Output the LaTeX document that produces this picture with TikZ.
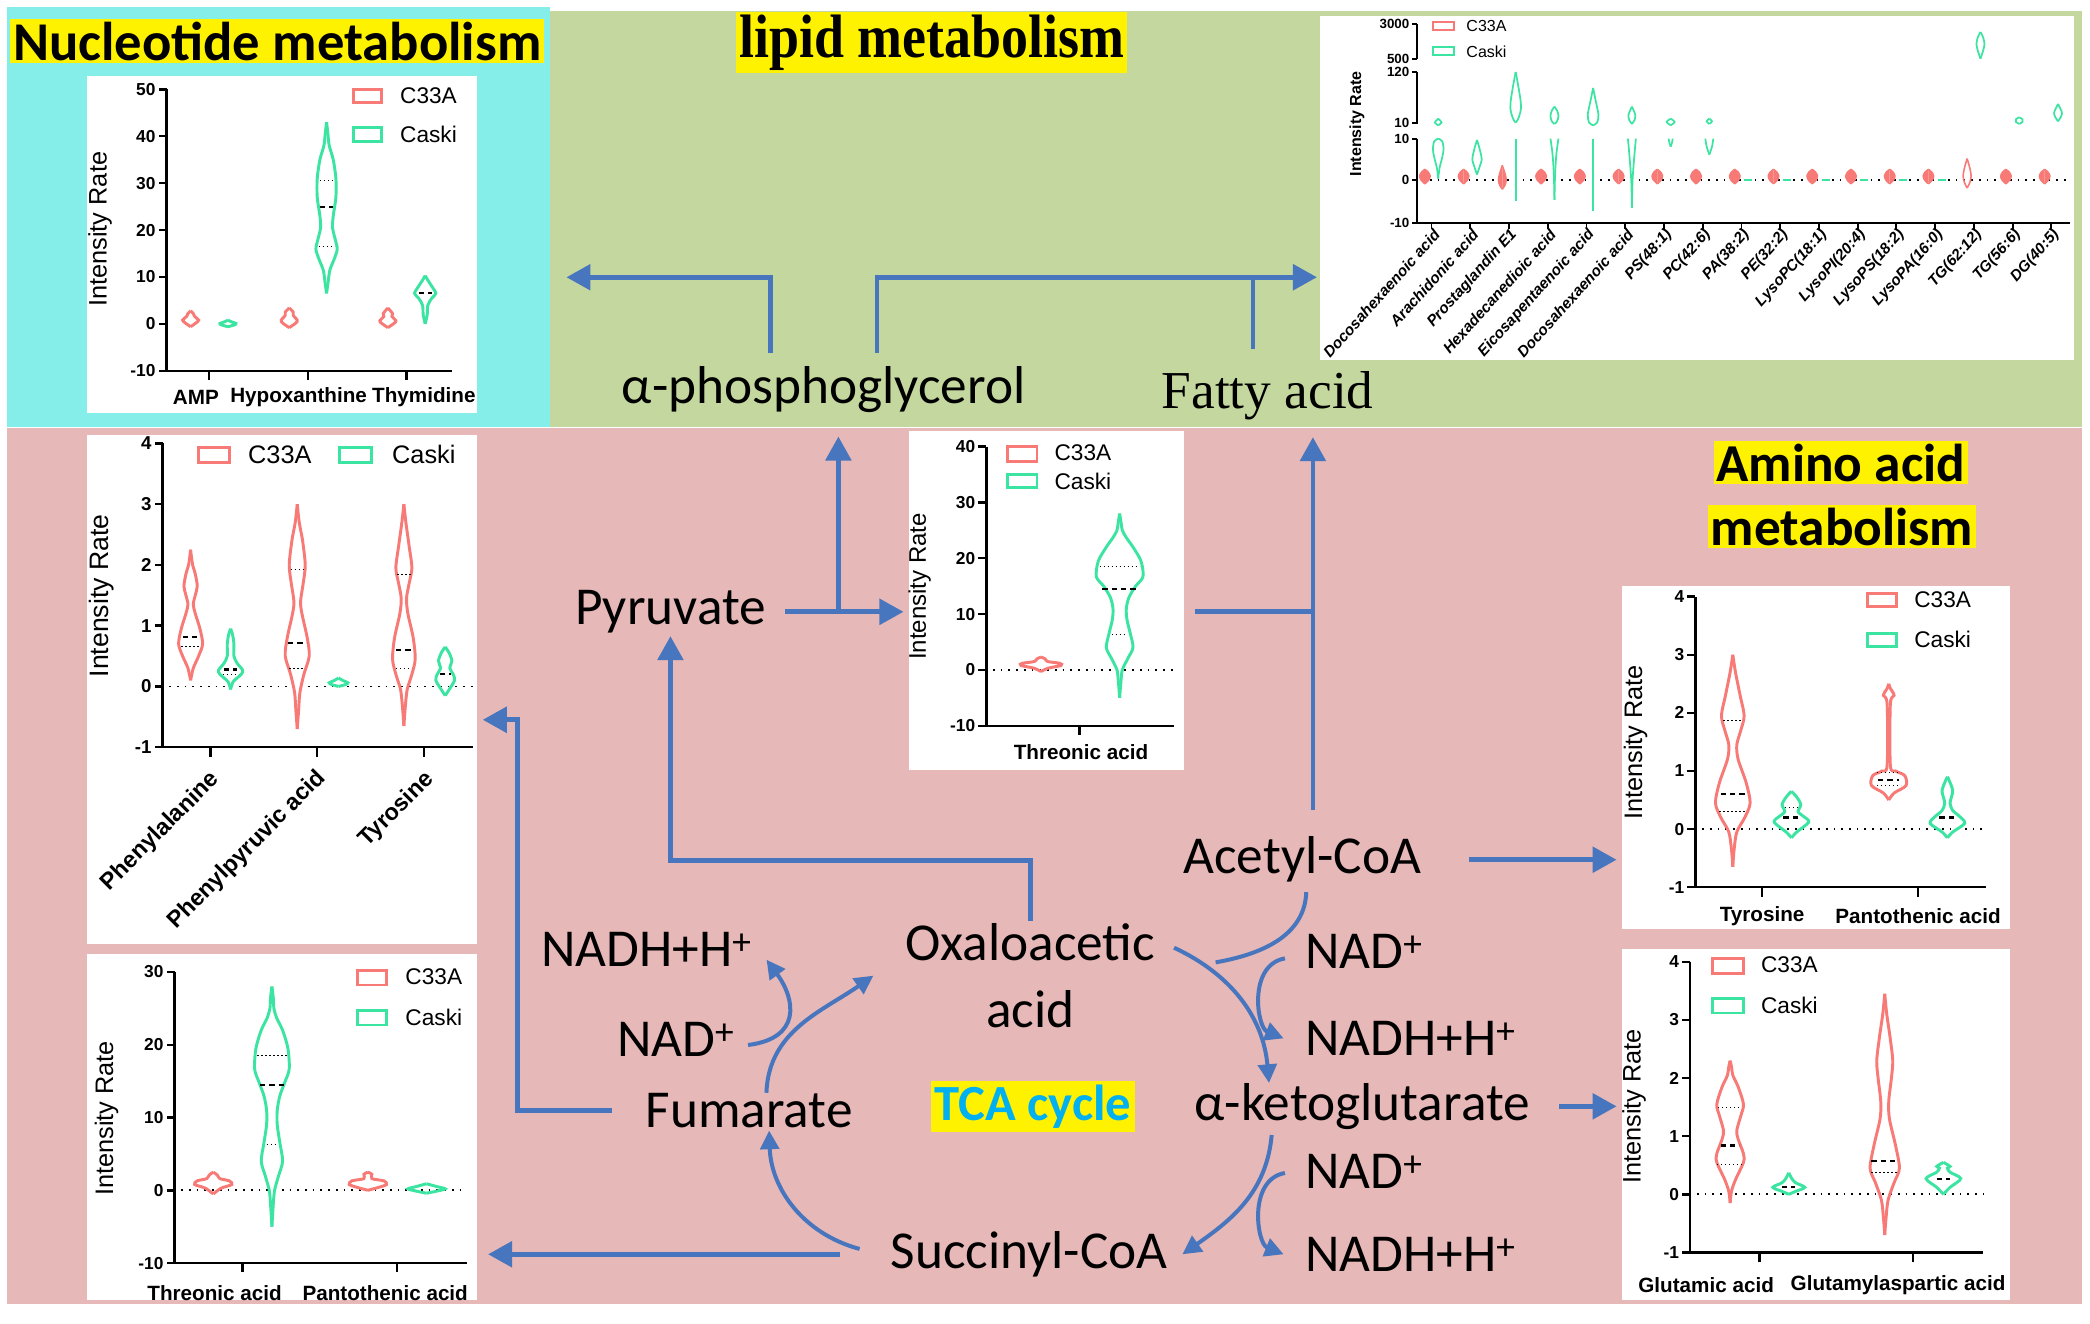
\documentclass[tikz,border=0pt]{standalone}
\usepackage{fontspec}
\usepackage{graphicx}
\setmainfont{Carlito}
\newfontfamily\timesfont{Liberation Serif}
\newfontfamily\arialfont{Liberation Sans}
\usetikzlibrary{arrows.meta}

\definecolor{cyanbg}{RGB}{134,238,232}
\definecolor{greenbg}{RGB}{196,215,158}
\definecolor{pinkbg}{RGB}{230,184,183}
\definecolor{flowblue}{RGB}{72,118,190}
\definecolor{vred}{RGB}{247,122,118}
\definecolor{vgrn}{RGB}{60,228,162}
\definecolor{tcablue}{RGB}{0,176,240}

% violin: centre x, style, right half profile (half width, value)
\newcommand{\violin}[3]{%
  \begin{scope}[shift={(#1,0)}]
    \draw[#2] plot[smooth] coordinates {#3};
    \draw[#2,xscale=-1] plot[smooth] coordinates {#3};
  \end{scope}}
\newcommand{\medmark}[3]{\draw[med_line] (#1-#2,#3) -- (#1+#2,#3);}
\newcommand{\qrtmark}[3]{\draw[qrt_line] (#1-#2,#3) -- (#1+#2,#3);}

\begin{document}
\begin{tikzpicture}[x=1pt, y=-1pt,
  met_node/.style={font=\fontsize{40}{50}\selectfont, inner sep=2pt},
  title_box/.style={fill=yellow, inner sep=2pt, font=\bfseries\fontsize{41}{41}\selectfont},
  panel/.style={fill=white, inner sep=0pt},
  flow_arrow/.style={draw=flowblue, line width=3.5pt, -{Triangle[length=18pt,width=19pt]}},
  flow_line/.style={draw=flowblue, line width=3.5pt},
  tca_arrow/.style={draw=flowblue, line width=3pt, -{Triangle[length=14pt,width=14pt]}},
  tca_line/.style={draw=flowblue, line width=3pt},
  chart_axis/.style={line width=1.8pt},
  lip_axis/.style={line width=1.4pt},
  chart_tick/.style={font=\arialfont\bfseries\fontsize{13}{13}\selectfont, inner sep=1.5pt},
  lip_tick/.style={font=\arialfont\bfseries\fontsize{10}{10}\selectfont, inner sep=1pt},
  chart_cat/.style={font=\arialfont\bfseries\fontsize{15.5}{15.5}\selectfont, inner sep=0pt},
  chart_rot/.style={font=\arialfont\bfseries\fontsize{17.5}{17.5}\selectfont, inner sep=0pt, rotate=45, anchor=east},
  lip_cat/.style={font=\arialfont\bfseries\itshape\fontsize{11.5}{11.5}\selectfont, inner sep=0pt, rotate=48, anchor=east},
  chart_ylab/.style={font=\arialfont\fontsize{19}{19}\selectfont, rotate=90},
  chart_leg/.style={font=\arialfont\fontsize{17}{17}\selectfont, anchor=west, inner sep=0pt},
  red_violin/.style={draw=vred, line width=2.2pt},
  grn_violin/.style={draw=vgrn, line width=2.2pt},
  red_small/.style={draw=vred, fill=vred, line width=1pt},
  grn_small/.style={draw=vgrn, line width=1.3pt},
  med_line/.style={line width=1.6pt, dash pattern=on 4pt off 3pt},
  qrt_line/.style={line width=0.7pt, dash pattern=on 1pt off 2pt},
  zero_line/.style={line width=1.3pt, dash pattern=on 1.3pt off 4.5pt},
]
\useasboundingbox (0,0) rectangle (1568,993);

% background regions
\fill[cyanbg] (5,5) rectangle (413,320);
\fill[greenbg] (413,8) rectangle (1562,320);
\fill[pinkbg] (5,321) rectangle (1562,978);

% titles
\node[title_box] (nuctitle) at (208,31) {Nucleotide metabolism};
\node[title_box, font=\timesfont\bfseries\fontsize{46}{46}\selectfont] (lipidtitle) at (699,32) {\scalebox{0.88}[1]{lipid metabolism}};
\node[title_box, font=\bfseries\fontsize{40}{40}\selectfont] (aminotitle) at (1381,347) {Amino acid};
\node[title_box, font=\bfseries\fontsize{40}{40}\selectfont] (aminotitleb) at (1382,395) {metabolism};
\node[fill=yellow, text=tcablue, inner sep=3pt, font=\bfseries\fontsize{38}{38}\selectfont] (tca) at (775,830) {TCA cycle};

% chart panels
\node[panel, minimum width=293pt, minimum height=253pt] (pnuc) at (211.5,183.5) {};
\node[panel, minimum width=566pt, minimum height=258pt] (plip) at (1273,141) {};
\node[panel, minimum width=206pt, minimum height=255pt] (pthr) at (785,450.5) {};
\node[panel, minimum width=293pt, minimum height=382pt] (pphe) at (211.5,517) {};
\node[panel, minimum width=293pt, minimum height=259pt] (pthrb) at (211.5,845.5) {};
\node[panel, minimum width=291pt, minimum height=257pt] (pamino) at (1362.5,568.5) {};
\node[panel, minimum width=291pt, minimum height=263pt] (pglu) at (1362.5,843.5) {};

% metabolites
\node[met_node] (pyr) at (503,459) {Pyruvate};
\node[met_node] (gly) at (618,292) {α-phosphoglycerol};
\node[met_node, font=\timesfont\fontsize{40}{40}\selectfont] (fatty) at (951,297) {Fatty acid};
\node[met_node] (acoa) at (977,645) {Acetyl-CoA};
\node[met_node, align=center] (oxa) at (773,732) {Oxaloacetic\\acid};
\node[met_node] (nadhl) at (485,712) {NADH+H\textsuperscript{+}};
\node[met_node] (nadl) at (507,780) {NAD\textsuperscript{+}};
\node[met_node] (fum) at (562,833) {Fumarate};
\node[met_node] (succ) at (772,941) {Succinyl-CoA};
\node[met_node] (akg) at (1022,830) {α-ketoglutarate};
\node[met_node, anchor=west] (nadra) at (977,714) {NAD\textsuperscript{+}};
\node[met_node, anchor=west] (nadhra) at (977,779) {NADH+H\textsuperscript{+}};
\node[met_node, anchor=west] (nadrb) at (977,879) {NAD\textsuperscript{+}};
\node[met_node, anchor=west] (nadhrb) at (977,941) {NADH+H\textsuperscript{+}};

% lipid branch
\coordinate (glyl) at (578,265);
\coordinate (glyr) at (658,265);
\coordinate (lipl) at (425,208);
\coordinate (lipr) at (988,208);
\coordinate (fatop) at (940,262);
\draw[flow_arrow] (glyl) |- (lipl);
\draw[flow_arrow] (glyr) |- (lipr);
\draw[flow_line] (fatop) -- (fatop |- lipr);

% pyruvate and acetyl-CoA
\coordinate (pyrfork) at (629,459);
\coordinate (faup) at (985,608);
\coordinate (fain) at (985,328);
\draw[flow_arrow, shorten <=12pt, shorten >=4pt] (pyr.east) -- (pyr.east -| pthr.west);
\draw[flow_arrow, shorten >=16pt] (pyrfork) -- (pyrfork |- gly.south);
\draw[flow_arrow] (oxa.north) -- ++(0,-45) -| (pyr.south);
\draw[flow_arrow] (faup) -- (fain);
\draw[flow_line, shorten <=8pt] (pyr.east -| pthr.east) -- (pyr.east -| faup);
\draw[flow_arrow, shorten <=34pt, shorten >=4pt] (acoa.east) -- (acoa.east -| pamino.west);
\draw[flow_arrow, shorten <=20pt, shorten >=4pt] (akg.east) -- (akg.east -| pglu.west);
\draw[flow_arrow, shorten <=36pt, shorten >=8pt] (succ.west) -- (succ.west -| pthrb.east);
\coordinate (fumturn) at (388,540);
\draw[flow_arrow, shorten <=23pt, shorten >=4pt] (fum.west) -| (fumturn) -- (fumturn -| pphe.east);

% TCA cycle
\coordinate (acjoin) at (912,722);
\draw[tca_arrow] ([xshift=-21pt,yshift=4pt]succ.west) to[out=165,in=-88] ([xshift=15pt]fum.south);
\draw[tca_arrow] ([xshift=13pt,yshift=-2pt]fum.north) to[out=88,in=215] ([xshift=-22pt]oxa.west);
\draw[tca_arrow] ([xshift=8pt,yshift=-4pt]nadl.east) .. controls +(40,-5) and +(22,30) .. ([xshift=9pt,yshift=7pt]nadhl.south east);
\draw[tca_arrow] ([xshift=12pt,yshift=21pt]oxa.east) to[out=-25,in=95] ([xshift=58pt,yshift=-2pt]akg.north west);
\draw[tca_line] ([xshift=3pt,yshift=-5pt]acoa.south) to[out=-92,in=10] (acjoin);
\draw[tca_arrow] ([xshift=-13pt,yshift=-5pt]nadra.west) .. controls +(-28,5) and +(-20,-8) .. ([xshift=-14pt]nadhra.west);
\draw[tca_arrow] ([xshift=60pt,yshift=-2pt]akg.south west) to[out=-95,in=35] ([xshift=9pt]succ.east);
\draw[tca_arrow] ([xshift=-13pt,yshift=-1pt]nadrb.west) .. controls +(-28,5) and +(-20,-8) .. ([xshift=-14pt]nadhrb.west);

% nucleotide chart
\begin{scope}[shift={(125,243)}, y={(0pt,3.52pt)}]
  \draw[chart_axis] (0,50) -- (0,-10) -- (214,-10);
  \foreach \v in {-10,0,...,50} \draw[chart_axis] (0,\v) -- ++(-6pt,0pt) node[chart_tick,left] {\v};
  \foreach \x in {32,106,180} \draw[chart_axis] (\x,-10) -- ++(0pt,-7pt);
  \node[chart_cat] (camp) at (22,-15.6) {AMP};
  \node[chart_cat] (chyp) at (99,-15.6) {Hypoxanthine};
  \node[chart_cat] (cthy) at (193,-15.6) {Thymidine};
  \violin{18}{red_violin}{(0,-0.6)(4,0.2)(6,0.8)(3,1.6)(2,2.2)(0,2.8)}
  \violin{46}{grn_violin}{(0,-0.6)(5,-0.2)(6,0.1)(3,0.4)(0,0.8)}
  \violin{92}{red_violin}{(0,-0.8)(5,0.2)(6,0.8)(3,1.8)(3,2.5)(0,3.4)}
  \violin{120}{grn_violin}{(0,6.5)(1.2,9)(2.5,11.5)(6,14)(8,16)(6.5,18)(4.5,20.5)(5,23)(7,27)(7,31)(5,35)(2,38)(1,40.5)(0,43)}
  \violin{166}{red_violin}{(0,-0.8)(5,0.2)(6,0.7)(3,1.6)(3.5,2.2)(0,3.4)}
  \violin{194}{grn_violin}{(0,0)(1.5,2)(2,4)(5,5.5)(8,6.5)(5,8)(2,9.3)(0,10.3)}
  \medmark{120}{5}{25} \qrtmark{120}{5}{30.5} \qrtmark{120}{6}{16.5}
  \medmark{194}{5}{6.5}
\end{scope}
\draw[red_violin] (265,67) rectangle (286,77);
\draw[grn_violin] (265,96) rectangle (286,106);
\node[chart_leg] (lnuca) at (300,72) {C33A};
\node[chart_leg] (lnucb) at (300,101) {Caski};
\node[chart_ylab] (ynuc) at (75,172) {Intensity Rate};

% lipid chart
\begin{scope}[shift={(1063,0)}]
  \draw[lip_axis] (0,18) -- (0,44);
  \draw[lip_axis] (0,54) -- (0,93);
  \draw[lip_axis] (0,104) -- (0,167) -- (490,167);
  \foreach \y/\l in {18/3000,44/500,54/120,92/10,104/10,135/0,167/-10}
    \draw[lip_axis] (0,\y) -- ++(-4pt,0pt) node[lip_tick,left] {\l};
  \foreach \k in {0,...,16} \draw[lip_axis] (11+29.06*\k,167) -- ++(0pt,-5pt);
  \draw[zero_line, line width=1pt] (4,135) -- (490,135);
  \foreach \k/\n in {0/Docosahexaenoic acid,1/Arachidonic acid,2/Prostaglandin E1,3/Hexadecanedioic acid,4/Eicosapentaenoic acid,5/Docosahexaenoic acid,6/PS(48:1),7/PC(42:6),8/PA(38:2),9/PE(32:2),10/LysoPC(18:1),11/LysoPI(20:4),12/LysoPS(18:2),13/LysoPA(16:0),14/TG(62:12),15/TG(56:6),16/DG(40:5)}
    \node[lip_cat] at (15+29.06*\k,174) {\n};
  \foreach \k in {0,1,3,4,...,13,15,16}
    {\violin{6+29.06*\k}{red_small}{(0,138)(3,135)(4,132)(2.5,129)(0,127)}}
  \violin{64.1}{red_small}{(0,142)(2,139)(3,135)(2,130)(0,124)}
  \violin{412.8}{red_violin, line width=1.2pt}{(0,141)(2,137)(3,132)(2,126)(0,119)}
  \foreach \k in {8,...,13} \draw[grn_small] (13+29.06*\k,135) -- ++(6pt,0pt);
  \violin{16}{grn_small}{(0,89)(2.5,92)(0,94)}
  \violin{16}{grn_small}{(0,134)(1,126)(3,118)(4,112)(3,106)(0,104)}
  \violin{45.1}{grn_small}{(0,131)(2,125)(3.5,120)(3,116)(1.5,110)(0,105)}
  \violin{74.1}{grn_small}{(0,92)(1.5,90)(3,86)(4,81)(3.5,74)(1.5,62)(0,54)}
  \draw[grn_small] (74.1,104) -- (74.1,151);
  \violin{103.2}{grn_small}{(0,93)(2,91)(3,87)(2,83)(0,80)}
  \violin{103.2}{grn_small}{(0,150)(0.5,130)(1.5,115)(3,104)}
  \violin{132.2}{grn_small}{(0,94)(3,92)(4,86)(2,76)(0,66)}
  \draw[grn_small] (132.2,104) -- (132.2,158);
  \violin{161.3}{grn_small}{(0,93)(2,90)(2.5,86)(0,80)}
  \violin{161.3}{grn_small}{(0,156)(0.5,135)(2,115)(3,104)}
  \violin{190.4}{grn_small}{(0,94)(3,91.5)(0,89)}
  \violin{190.4}{grn_small}{(0,110)(1,107)(1.5,104)}
  \violin{219.4}{grn_small}{(0,93)(2,91)(0,89)}
  \violin{219.4}{grn_small}{(0,116)(2,110)(3,104)}
  \violin{422.8}{grn_small}{(0,44)(2,38)(3,33)(2,28)(0,24)}
  \violin{451.9}{grn_small}{(0,93)(2.5,91.5)(2.5,89.5)(0,88)}
  \violin{481.0}{grn_small}{(0,91)(2,88)(3,85)(2,82)(0,78)}
\end{scope}
\draw[red_violin, line width=1.5pt] (1075,16.5) rectangle (1091,22.5);
\draw[grn_violin, line width=1.5pt] (1075,35.5) rectangle (1091,41.5);
\node[chart_leg, font=\arialfont\fontsize{12}{12}\selectfont] (llipa) at (1100,19.5) {C33A};
\node[chart_leg, font=\arialfont\fontsize{12}{12}\selectfont] (llipb) at (1100,38.5) {Caski};
\node[chart_ylab, font=\arialfont\bfseries\fontsize{12}{12}\selectfont] (ylip) at (1018,93) {Intensity Rate};

% threonic acid chart (centre)
\begin{scope}[shift={(740,502.6)}, y={(0pt,4.19pt)}]
  \draw[chart_axis] (0,40) -- (0,-10) -- (141,-10);
  \foreach \v in {-10,0,...,40} \draw[chart_axis] (0,\v) -- ++(-6pt,0pt) node[chart_tick,left] {\v};
  \draw[chart_axis] (70,-10) -- ++(0pt,-7pt);
  \draw[zero_line] (5,0) -- (141,0);
  \node[chart_cat] (cthr) at (71,-14.7) {Threonic acid};
  \violin{41}{red_violin}{(0,-0.3)(5,0.3)(15,0.8)(14,1.2)(5,1.5)(3,2)(0,2.3)}
  \violin{100}{grn_violin}{(0,-5)(1,-2)(2,0)(6,2)(10,4)(8,6.5)(5.5,9)(5,11)(7,13)(12,15)(17.5,16.7)(16,19.5)(10,22)(5,23.7)(2,25)(1,26.5)(0,28)}
  \medmark{100}{13}{14.5} \qrtmark{100}{15}{18.5} \qrtmark{100}{6}{6.3}
\end{scope}
\draw[red_violin] (756,335) rectangle (778,346);
\draw[grn_violin] (756,356) rectangle (778,366);
\node[chart_leg] (lthra) at (791,340) {C33A};
\node[chart_leg] (lthrb) at (791,361) {Caski};
\node[chart_ylab, font=\arialfont\fontsize{18}{18}\selectfont] (ythr) at (690,440) {Intensity Rate};

% phenylalanine chart
\begin{scope}[shift={(122,515)}, y={(0pt,45.6pt)}]
  \draw[chart_axis] (0,4) -- (0,-1) -- (233,-1);
  \foreach \v in {-1,0,...,4} \draw[chart_axis] (0,\v) -- ++(-6pt,0pt) node[chart_tick,left,font=\arialfont\bfseries\fontsize{14}{14}\selectfont] {\v};
  \foreach \x in {36,116,196} \draw[chart_axis] (\x,-1) -- ++(0pt,-7pt);
  \draw[zero_line] (5,0) -- (233,0);
  \node[chart_rot] (cphe) at (40,-1.47) {Phenylalanine};
  \node[chart_rot] (cppa) at (120,-1.45) {Phenylpyruvic acid};
  \node[chart_rot] (ctyr) at (201,-1.47) {Tyrosine};
  \violin{21}{red_violin}{(0,0.1)(2,0.3)(6,0.5)(9,0.7)(7,0.95)(3.5,1.2)(2,1.35)(3.5,1.5)(5,1.65)(3.5,1.85)(1.5,2.0)(0.8,2.1)(0,2.25)}
  \violin{51}{grn_violin}{(0,-0.05)(2,0.08)(8,0.2)(9,0.27)(5,0.38)(2.5,0.5)(2.5,0.7)(1.5,0.85)(0,0.95)}
  \violin{101}{red_violin}{(0,-0.7)(1,-0.4)(2,-0.1)(5,0.2)(9,0.5)(7.5,0.8)(3.5,1.2)(2.5,1.4)(4.5,1.7)(6,2.0)(4,2.4)(1.5,2.7)(0,3.0)}
  \violin{132}{grn_violin}{(0,0)(5,0.03)(7,0.06)(3,0.1)(0,0.14)}
  \violin{181}{red_violin}{(0,-0.65)(1,-0.35)(2.5,-0.05)(6,0.2)(8.5,0.45)(7,0.8)(3,1.2)(2,1.45)(4,1.7)(6,1.95)(4,2.3)(1.5,2.7)(0,3.0)}
  \violin{212}{grn_violin}{(0,-0.15)(3,-0.05)(7,0.1)(6,0.2)(3.5,0.3)(5,0.42)(3,0.55)(0,0.65)}
  \medmark{21}{6}{0.82} \qrtmark{21}{7}{0.66}
  \medmark{51}{5}{0.28} \qrtmark{51}{6}{0.2}
  \medmark{101}{7}{0.72} \qrtmark{101}{5}{1.92} \qrtmark{101}{6}{0.3}
  \medmark{181}{6}{0.6} \qrtmark{181}{5}{1.85} \qrtmark{181}{6}{0.3}
  \medmark{212}{4}{0.2}
\end{scope}
\draw[red_violin] (149,336) rectangle (172,347);
\draw[grn_violin] (255,336) rectangle (279,347);
\node[chart_leg, font=\arialfont\fontsize{19}{19}\selectfont] (lphea) at (186,341) {C33A};
\node[chart_leg, font=\arialfont\fontsize{19}{19}\selectfont] (lpheb) at (294,341) {Caski};
\node[chart_ylab, font=\arialfont\fontsize{20}{20}\selectfont] (yphe) at (76,447) {Intensity Rate};

% threonic / pantothenic chart (bottom left)
\begin{scope}[shift={(131,893)}, y={(0pt,5.46pt)}]
  \draw[chart_axis] (0,30) -- (0,-10) -- (219,-10);
  \foreach \v in {-10,0,...,30} \draw[chart_axis] (0,\v) -- ++(-6pt,0pt) node[chart_tick,left] {\v};
  \foreach \x in {51,167} \draw[chart_axis] (\x,-10) -- ++(0pt,-7pt);
  \draw[zero_line] (5,0) -- (219,0);
  \node[chart_cat] (cthrb) at (30,-14.1) {Threonic acid};
  \node[chart_cat] (cpanb) at (158,-14.1) {Pantothenic acid};
  \violin{29}{red_violin}{(0,-0.5)(6,0.3)(14,0.8)(12,1.3)(5,1.6)(3,2.1)(0,2.5)}
  \violin{73}{grn_violin}{(0,-5)(1,-2)(2,0)(5,2)(8,4)(6,6.5)(4,9)(4,11)(6,13)(10,15)(13,16.7)(12,19.5)(8,22)(3.5,23.7)(1.5,25)(1,26.5)(0,28)}
  \violin{145}{red_violin}{(0,0)(8,0.4)(14,0.8)(12,1.3)(3,1.6)(3,2.2)(0,2.5)}
  \violin{189}{grn_violin}{(0,-0.4)(8,-0.1)(14,0.2)(8,0.5)(0,0.9)}
  \medmark{73}{9}{14.5} \qrtmark{73}{11}{18.5} \qrtmark{73}{4}{6.3}
\end{scope}
\draw[red_violin] (268,728) rectangle (290,739);
\draw[grn_violin] (268,758) rectangle (290,769);
\node[chart_leg] (lthrba) at (304,733) {C33A};
\node[chart_leg] (lthrbb) at (304,763) {Caski};
\node[chart_ylab] (ythrb) at (80,839) {Intensity Rate};

% tyrosine / pantothenic chart (right)
\begin{scope}[shift={(1272,622)}, y={(0pt,43.6pt)}]
  \draw[chart_axis] (0,4) -- (0,-1) -- (218,-1);
  \foreach \v in {-1,0,...,4} \draw[chart_axis] (0,\v) -- ++(-6pt,0pt) node[chart_tick,left] {\v};
  \foreach \x in {50,167} \draw[chart_axis] (\x,-1) -- ++(0pt,-7pt);
  \draw[zero_line] (5,0) -- (218,0);
  \node[chart_cat] (ctyrr) at (50,-1.49) {Tyrosine};
  \node[chart_cat] (cpanr) at (167,-1.49) {Pantothenic acid};
  \violin{28}{red_violin}{(0,-0.65)(1,-0.35)(3,-0.05)(9,0.2)(13,0.45)(10,0.8)(4,1.2)(3,1.45)(6,1.7)(8.5,1.95)(5.5,2.3)(2,2.7)(0,3.0)}
  \violin{72}{grn_violin}{(0,-0.15)(4,-0.05)(13,0.12)(9,0.22)(5,0.3)(7,0.42)(4,0.55)(0,0.65)}
  \violin{145}{red_violin}{(0,0.5)(4,0.62)(13,0.75)(12,0.92)(5,1.0)(1.2,1.1)(1.2,2.15)(4,2.3)(1.2,2.42)(0,2.5)}
  \violin{189}{grn_violin}{(0,-0.15)(4,-0.05)(13,0.1)(9,0.22)(4,0.32)(2,0.45)(4,0.65)(2,0.8)(0,0.9)}
  \medmark{28}{9}{0.6} \qrtmark{28}{7}{1.87} \qrtmark{28}{10}{0.3}
  \medmark{72}{6}{0.2} \qrtmark{72}{5}{0.38}
  \medmark{145}{8}{0.85} \qrtmark{145}{9}{0.97} \qrtmark{145}{9}{0.75}
  \medmark{189}{6}{0.2}
\end{scope}
\draw[red_violin] (1401,445) rectangle (1423,455);
\draw[grn_violin] (1401,475) rectangle (1423,485);
\node[chart_leg] (lamia) at (1436,450) {C33A};
\node[chart_leg] (lamib) at (1436,480) {Caski};
\node[chart_ylab] (yami) at (1227,557) {Intensity Rate};

% glutamic acid chart (right bottom)
\begin{scope}[shift={(1268,896)}, y={(0pt,43.6pt)}]
  \draw[chart_axis] (0,4) -- (0,-1) -- (220,-1);
  \foreach \v in {-1,0,...,4} \draw[chart_axis] (0,\v) -- ++(-6pt,0pt) node[chart_tick,left] {\v};
  \foreach \x in {52,167} \draw[chart_axis] (\x,-1) -- ++(0pt,-7pt);
  \draw[zero_line] (5,0) -- (220,0);
  \node[chart_cat] (cglu) at (12,-1.56) {Glutamic acid};
  \node[chart_cat] (cgla) at (156,-1.56) {Glutamylaspartic acid};
  \violin{30}{red_violin}{(0,-0.15)(1,0.05)(4,0.25)(10,0.55)(10,0.7)(6,0.95)(5,1.1)(8,1.35)(10,1.55)(6,1.85)(2,2.05)(1,2.2)(0,2.3)}
  \violin{74}{grn_violin}{(0,0)(5,0.05)(12,0.12)(5,0.2)(2,0.28)(0,0.37)}
  \violin{146}{red_violin}{(0,-0.7)(1,-0.4)(2.5,-0.1)(7,0.2)(11,0.45)(8,0.85)(3.5,1.3)(3,1.6)(5,2.0)(6,2.3)(4,2.7)(1.5,3.1)(0,3.45)}
  \violin{190}{grn_violin}{(0,0)(5,0.12)(13,0.27)(5,0.38)(3,0.45)(5,0.48)(0,0.55)}
  \medmark{30}{7}{0.84} \qrtmark{30}{9}{1.5} \qrtmark{30}{10}{0.52}
  \medmark{74}{5}{0.12}
  \medmark{146}{10}{0.57} \qrtmark{146}{10}{0.38}
  \medmark{190}{5}{0.27}
\end{scope}
\draw[red_violin] (1285,719) rectangle (1308,730);
\draw[grn_violin] (1285,749) rectangle (1308,760);
\node[chart_leg] (lglua) at (1321,724) {C33A};
\node[chart_leg] (lglub) at (1321,754) {Caski};
\node[chart_ylab] (yglu) at (1226,830) {Intensity Rate};
\end{tikzpicture}
\end{document}
